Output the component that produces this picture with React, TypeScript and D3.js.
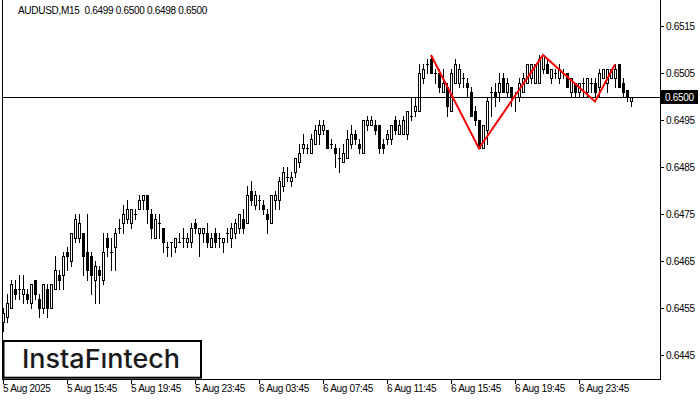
import * as d3 from 'd3';

const opens = [
  0.6452, 0.6453, 0.6455, 0.6459, 0.6459, 0.6458, 0.6458, 0.6456, 0.6461, 0.6457,
  0.6455, 0.6459, 0.6455, 0.6459, 0.6462, 0.6462, 0.6467, 0.6465, 0.647, 0.647,
  0.6471, 0.6467, 0.6466, 0.6461, 0.6463, 0.6461, 0.647, 0.6467, 0.6468, 0.6472,
  0.6473, 0.6474, 0.6473, 0.6475, 0.6476, 0.6478, 0.6479, 0.6475, 0.647, 0.6473,
  0.6472, 0.6468, 0.6469, 0.6468, 0.6469, 0.647, 0.6469, 0.6469, 0.6473, 0.6471,
  0.6471, 0.6471, 0.6468, 0.6471, 0.647, 0.6469, 0.6471, 0.647, 0.6471, 0.6472,
  0.6474, 0.6473, 0.648, 0.6477, 0.6478, 0.6477, 0.6475, 0.6473, 0.6478, 0.6478,
  0.6481, 0.6483, 0.6482, 0.6484, 0.6486, 0.6489, 0.6489, 0.6488, 0.649, 0.6492,
  0.6493, 0.6493, 0.649, 0.6489, 0.6487, 0.6486, 0.6487, 0.649, 0.6492, 0.649,
  0.6488, 0.6494, 0.6494, 0.6494, 0.6494, 0.649, 0.6491, 0.6491, 0.6495, 0.6492,
  0.6492, 0.6492, 0.6496, 0.6497, 0.6497, 0.6504, 0.6507, 0.6508, 0.6505, 0.6505,
  0.6501, 0.6502, 0.6497, 0.6503, 0.6503, 0.6504, 0.6503, 0.6501, 0.6497, 0.6495,
  0.6489, 0.6493, 0.6501, 0.6501, 0.6501, 0.6504, 0.6501, 0.6502, 0.65, 0.65,
  0.6501, 0.6503, 0.6504, 0.6503, 0.6503, 0.6506, 0.6507, 0.6504, 0.6505, 0.6504,
  0.6505, 0.6505, 0.6501, 0.6503, 0.6501, 0.6503, 0.6501, 0.6503, 0.6503, 0.6502,
  0.6504, 0.6503, 0.6504, 0.6504, 0.6507, 0.6503, 0.65015, 0.6499,
];
const highs = [
  0.6455, 0.6458, 0.6461, 0.6461, 0.6462, 0.6462, 0.6459, 0.646, 0.6461, 0.6458,
  0.646, 0.646, 0.646, 0.6466, 0.6463, 0.6467, 0.6468, 0.6471, 0.6475, 0.6475,
  0.6471, 0.6475, 0.6467, 0.6465, 0.6464, 0.6471, 0.6471, 0.647, 0.6472, 0.6474,
  0.6477, 0.6478, 0.6476, 0.6476, 0.6479, 0.6479, 0.6479, 0.6476, 0.6475, 0.6475,
  0.6472, 0.6469, 0.6469, 0.647, 0.6471, 0.6472, 0.6471, 0.6473, 0.6474, 0.6472,
  0.6472, 0.6473, 0.6471, 0.6472, 0.6471, 0.647, 0.6472, 0.6473, 0.6474, 0.6475,
  0.6476, 0.6481, 0.6482, 0.648, 0.6479, 0.6478, 0.6476, 0.6479, 0.648, 0.6483,
  0.6485, 0.6485, 0.6484, 0.6487, 0.649, 0.6492, 0.649, 0.6492, 0.6494, 0.6495,
  0.6495, 0.6493, 0.6491, 0.649, 0.6489, 0.649, 0.6493, 0.6494, 0.6493, 0.6491,
  0.6495, 0.6496, 0.6496, 0.6495, 0.6494, 0.6491, 0.6493, 0.6494, 0.6496, 0.6495,
  0.6496, 0.6497, 0.65, 0.65, 0.6507, 0.6507, 0.6508, 0.6509, 0.6506, 0.6506,
  0.6506, 0.6503, 0.6506, 0.6508, 0.6507, 0.6505, 0.6504, 0.6502, 0.6498, 0.6495,
  0.6494, 0.65, 0.6502, 0.6503, 0.6505, 0.6505, 0.6504, 0.6502, 0.6501, 0.6504,
  0.6505, 0.6507, 0.6507, 0.6507, 0.6509, 0.6509, 0.6508, 0.6506, 0.6506, 0.6507,
  0.6506, 0.6505, 0.6504, 0.6503, 0.6503, 0.6504, 0.6504, 0.6504, 0.6504, 0.6506,
  0.6506, 0.6506, 0.6506, 0.6507, 0.6507, 0.6504, 0.6501, 0.65,
];
const lows = [
  0.645, 0.6452, 0.6455, 0.6457, 0.6457, 0.6456, 0.6456, 0.6455, 0.6457, 0.6453,
  0.6454, 0.6453, 0.6455, 0.6459, 0.6459, 0.6459, 0.6463, 0.6464, 0.6469, 0.6469,
  0.6462, 0.6461, 0.6458, 0.6456, 0.6456, 0.646, 0.6466, 0.6463, 0.6463, 0.6471,
  0.6471, 0.6473, 0.6472, 0.6474, 0.6476, 0.6476, 0.6473, 0.647, 0.647, 0.647,
  0.6467, 0.6466, 0.6466, 0.6467, 0.6469, 0.6468, 0.6468, 0.6468, 0.6471, 0.6466,
  0.6469, 0.6468, 0.6468, 0.6468, 0.6468, 0.6467, 0.6469, 0.6468, 0.647, 0.6471,
  0.6471, 0.6473, 0.6477, 0.6476, 0.6476, 0.6475, 0.6471, 0.6473, 0.6476, 0.6476,
  0.648, 0.6482, 0.6481, 0.6483, 0.6485, 0.6488, 0.6488, 0.6488, 0.649, 0.649,
  0.6492, 0.6489, 0.6489, 0.6485, 0.6484, 0.6486, 0.6487, 0.6489, 0.649, 0.6488,
  0.6488, 0.6493, 0.6494, 0.6492, 0.6488, 0.6488, 0.649, 0.649, 0.6492, 0.6492,
  0.6492, 0.6491, 0.6495, 0.6496, 0.6497, 0.6503, 0.6505, 0.6505, 0.6503, 0.6501,
  0.6501, 0.6496, 0.6497, 0.6503, 0.6502, 0.6502, 0.65, 0.6496, 0.6494, 0.6489,
  0.6489, 0.649, 0.6496, 0.6498, 0.6499, 0.6501, 0.65, 0.6498, 0.6497, 0.6499,
  0.6501, 0.6503, 0.6503, 0.6503, 0.6503, 0.6505, 0.6505, 0.6503, 0.6504, 0.6503,
  0.6504, 0.6502, 0.65, 0.65, 0.65, 0.65, 0.65, 0.6501, 0.65, 0.65,
  0.6504, 0.6501, 0.6504, 0.6502, 0.6502, 0.65, 0.6499, 0.6498,
];
const closes = [
  0.6454, 0.6456, 0.646, 0.6458, 0.6459, 0.6459, 0.6457, 0.646, 0.6458, 0.6455,
  0.646, 0.6455, 0.646, 0.6463, 0.6461, 0.6466, 0.6466, 0.6471, 0.6474, 0.6473,
  0.6466, 0.6463, 0.6462, 0.6464, 0.6462, 0.6467, 0.6468, 0.6467, 0.6471, 0.6472,
  0.6475, 0.6476, 0.6476, 0.6475, 0.6478, 0.6479, 0.6476, 0.6472, 0.6474, 0.6473,
  0.6469, 0.6468, 0.6469, 0.647, 0.6469, 0.647, 0.647, 0.6472, 0.6472, 0.6472,
  0.6472, 0.6469, 0.647, 0.6469, 0.647, 0.647, 0.6471, 0.6472, 0.6473, 0.6475,
  0.6472, 0.6479, 0.6478, 0.6479, 0.6478, 0.6476, 0.6474, 0.6479, 0.6479, 0.6482,
  0.6484, 0.6483, 0.6483, 0.6487, 0.6488, 0.649, 0.6489, 0.6491, 0.6493, 0.6494,
  0.6494, 0.6489, 0.649, 0.6488, 0.6487, 0.6488, 0.6491, 0.6492, 0.6491, 0.6489,
  0.6495, 0.6495, 0.6495, 0.6493, 0.6489, 0.6489, 0.6492, 0.6494, 0.6493, 0.6494,
  0.6495, 0.6497, 0.6496, 0.6498, 0.6505, 0.6506, 0.6507, 0.6505, 0.6505, 0.6502,
  0.6503, 0.6498, 0.6505, 0.6507, 0.6506, 0.6504, 0.6502, 0.6496, 0.6495, 0.6489,
  0.6494, 0.6499, 0.6501, 0.65, 0.6503, 0.6501, 0.6503, 0.65, 0.65, 0.6503,
  0.6504, 0.6507, 0.6507, 0.6507, 0.6508, 0.6509, 0.6505, 0.6506, 0.6505, 0.6506,
  0.6505, 0.6502, 0.6504, 0.6501, 0.6503, 0.6503, 0.6504, 0.6503, 0.6501, 0.6505,
  0.6506, 0.6506, 0.6506, 0.6506, 0.6502, 0.6501, 0.65, 0.65,
];

const priceTicks = [0.6515, 0.6505, 0.6495, 0.6485, 0.6475, 0.6465, 0.6455, 0.6445];
const timeTickIndex = [0, 16, 32, 48, 64, 80, 96, 112, 128, 144];
const timeLabels = [
  '5 Aug 2025', '5 Aug 15:45', '5 Aug 19:45', '5 Aug 23:45', '6 Aug 03:45',
  '6 Aug 07:45', '6 Aug 11:45', '6 Aug 15:45', '6 Aug 19:45', '6 Aug 23:45',
];
const patternIndex = [107, 119, 135, 148, 153];
const patternPrice = [0.6509, 0.64891, 0.6509, 0.64991, 0.6507];
const lastPrice = 0.65;
const title = 'AUDUSD,M15  0.6499 0.6500 0.6498 0.6500';

const W = 700;
const H = 400;
const plotLeft = 2;
const plotRight = 660;
const plotBottom = 379;
const font = '"Liberation Sans", Arial, sans-serif';
const tight = -0.3;

const x = d3.scaleLinear().domain([0, 164.25]).range([3, 660]);
const y = d3.scaleLinear().domain([0.6445, 0.6515]).range([355.3, 26.9]);
const px = (i) => Math.round(x(i));
const py = (p) => Math.floor(y(p));

const Candle = ({ i }) => {
  const c = px(i);
  const o = opens[i];
  const cl = closes[i];
  const yh = py(highs[i]);
  const yl = py(lows[i]);
  const yo = py(o);
  const yc = py(cl);
  const top = Math.min(yo, yc);
  const bot = Math.max(yo, yc);
  return (
    <g>
      <line x1={c + 0.5} x2={c + 0.5} y1={yh} y2={yl + 1} stroke="#000" />
      {top === bot ? (
        <line x1={c - 1} x2={c + 2} y1={top + 0.5} y2={top + 0.5} stroke="#000" />
      ) : (
        <rect
          x={c - 0.5}
          y={top + 0.5}
          width={2}
          height={bot - top}
          fill={cl > o ? '#fff' : '#000'}
          stroke="#000"
        />
      )}
    </g>
  );
};

const App = () => {
  const patternLine = d3
    .line<number>()
    .x((_, k) => x(patternIndex[k]))
    .y((p) => y(p));
  const yLast = py(lastPrice) + 0.5;

  return (
    <div style={{ position: 'absolute', left: 0, top: 0 }}>
      <svg width={W} height={H} style={{ display: 'block', background: '#fff' }}>
        <rect width={W} height={H} fill="#fff" />
        <text
          x={18}
          y={14}
          fontFamily={font}
          fontSize={10}
          letterSpacing={tight}
          fill="#000"
          style={{ whiteSpace: 'pre' }}
        >
          {title}
        </text>

        {opens.map((_, i) => (
          <Candle key={i} i={i} />
        ))}

        <line x1={plotLeft} x2={plotRight} y1={yLast} y2={yLast} stroke="#000" />
        <path d={patternLine(patternPrice)} fill="none" stroke="#ff0000" strokeWidth={2} />

        {/* frame */}
        <line x1={plotLeft + 0.5} x2={plotLeft + 0.5} y1={0} y2={plotBottom + 1} stroke="#000" />
        <line x1={plotRight + 0.5} x2={plotRight + 0.5} y1={0} y2={plotBottom + 1} stroke="#000" />
        <line x1={plotLeft} x2={plotRight + 1} y1={plotBottom + 0.5} y2={plotBottom + 0.5} stroke="#000" />

        {priceTicks.map((p) => (
          <g key={p}>
            <line x1={plotRight} x2={plotRight + 4} y1={py(p) + 0.5} y2={py(p) + 0.5} stroke="#000" />
            <text x={666} y={py(p) + 4} fontFamily={font} fontSize={10} letterSpacing={tight} fill="#000">
              {p.toFixed(4)}
            </text>
          </g>
        ))}
        <rect x={661} y={yLast - 7.5} width={37} height={14} fill="#000" />
        <text x={665} y={yLast + 3.5} fontFamily={font} fontSize={10} letterSpacing={tight} fill="#fff">
          {lastPrice.toFixed(4)}
        </text>

        {timeTickIndex.map((ti, k) => (
          <g key={ti}>
            <line x1={px(ti) + 0.5} x2={px(ti) + 0.5} y1={plotBottom} y2={plotBottom + 5} stroke="#000" />
            <text x={px(ti)} y={392} fontFamily={font} fontSize={10} letterSpacing={tight} fill="#000">
              {timeLabels[k]}
            </text>
          </g>
        ))}

        <rect x={3.5} y={341} width={197.5} height={36.7} fill="#fff" stroke="#000" strokeWidth={2} />
        <text
          x={22}
          y={368}
          fontFamily="Inter, Lato, sans-serif"
          fontWeight={500}
          fontSize={26}
          fill="#1a1a1a"
          textLength={158}
          lengthAdjust="spacingAndGlyphs"
        >
          InstaFıntech
        </text>
      </svg>
    </div>
  );
};

export default App;
